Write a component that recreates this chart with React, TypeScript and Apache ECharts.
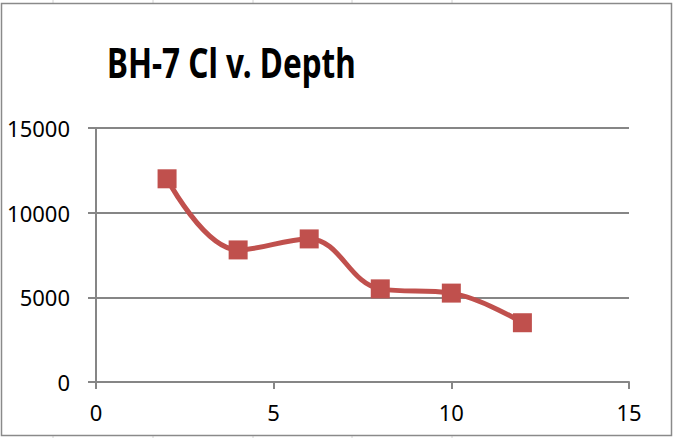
import React, { useEffect, useRef } from "react";
import * as echarts from "echarts";

const depth = [2, 4, 6, 8, 10, 12];
const chloride = [12000, 7800, 8450, 5500, 5250, 3500];
const titleText = "BH-7 Cl v. Depth";
const sheetGridX = [53, 153, 253, 352, 452];

export default function App() {
  const ref = useRef<HTMLDivElement>(null);
  useEffect(() => {
    if (!ref.current) return;
    const chart = echarts.init(ref.current, undefined, { renderer: "svg" });
    const axisColor = "#868686";
    const font = "'Noto Sans', sans-serif";
    const graphics: any[] = [];
    sheetGridX.forEach((x) => {
      graphics.push({ type: "line", shape: { x1: x, y1: 0, x2: x, y2: 3 }, style: { stroke: "#d4d4d4", lineWidth: 1 }, silent: true });
      graphics.push({ type: "line", shape: { x1: x, y1: 436, x2: x, y2: 438 }, style: { stroke: "#d4d4d4", lineWidth: 1 }, silent: true });
    });
    graphics.push({
      type: "rect",
      shape: { x: 1.5, y: 3.5, width: 670, height: 432 },
      style: { fill: "none", stroke: "#8a8a8a", lineWidth: 1.5 },
      silent: true,
    });
    graphics.push({
      type: "text",
      x: 107,
      y: 41,
      scaleX: 0.75,
      style: { text: titleText, fontFamily: font, fontWeight: "bold", fontSize: 42, fill: "#000", textVerticalAlign: "top" },
    });
    chart.setOption({
      animation: false,
      backgroundColor: "#fff",
      graphic: graphics,
      grid: { left: 96, right: 44, top: 128, bottom: 56 },
      xAxis: {
        type: "value",
        min: 0,
        max: 15,
        interval: 5,
        axisLine: { show: true, onZero: false, lineStyle: { color: axisColor, width: 2 } },
        axisTick: { show: true, length: 7, lineStyle: { color: axisColor, width: 2 } },
        axisLabel: { color: "#000", fontFamily: font, fontSize: 22, margin: 19 },
        splitLine: { show: false },
      },
      yAxis: {
        type: "value",
        min: 0,
        max: 15000,
        interval: 5000,
        axisLine: { show: true, lineStyle: { color: axisColor, width: 2 } },
        axisTick: { show: true, length: 8, lineStyle: { color: axisColor, width: 2 } },
        axisLabel: { color: "#000", fontFamily: font, fontSize: 22, margin: 26, formatter: (v: number) => String(v) },
        splitLine: { show: true, lineStyle: { color: axisColor, width: 2 } },
      },
      series: [
        {
          type: "line",
          data: depth.map((d, i) => [d, chloride[i]]),
          smooth: 0.4,
          symbol: "rect",
          symbolSize: 19,
          itemStyle: { color: "#C0504D" },
          lineStyle: { color: "#C0504D", width: 5 },
        },
      ],
    });
    return () => chart.dispose();
  }, []);
  return <div ref={ref} style={{ position: "fixed", left: 0, top: 0, width: 673, height: 438 }} />;
}
